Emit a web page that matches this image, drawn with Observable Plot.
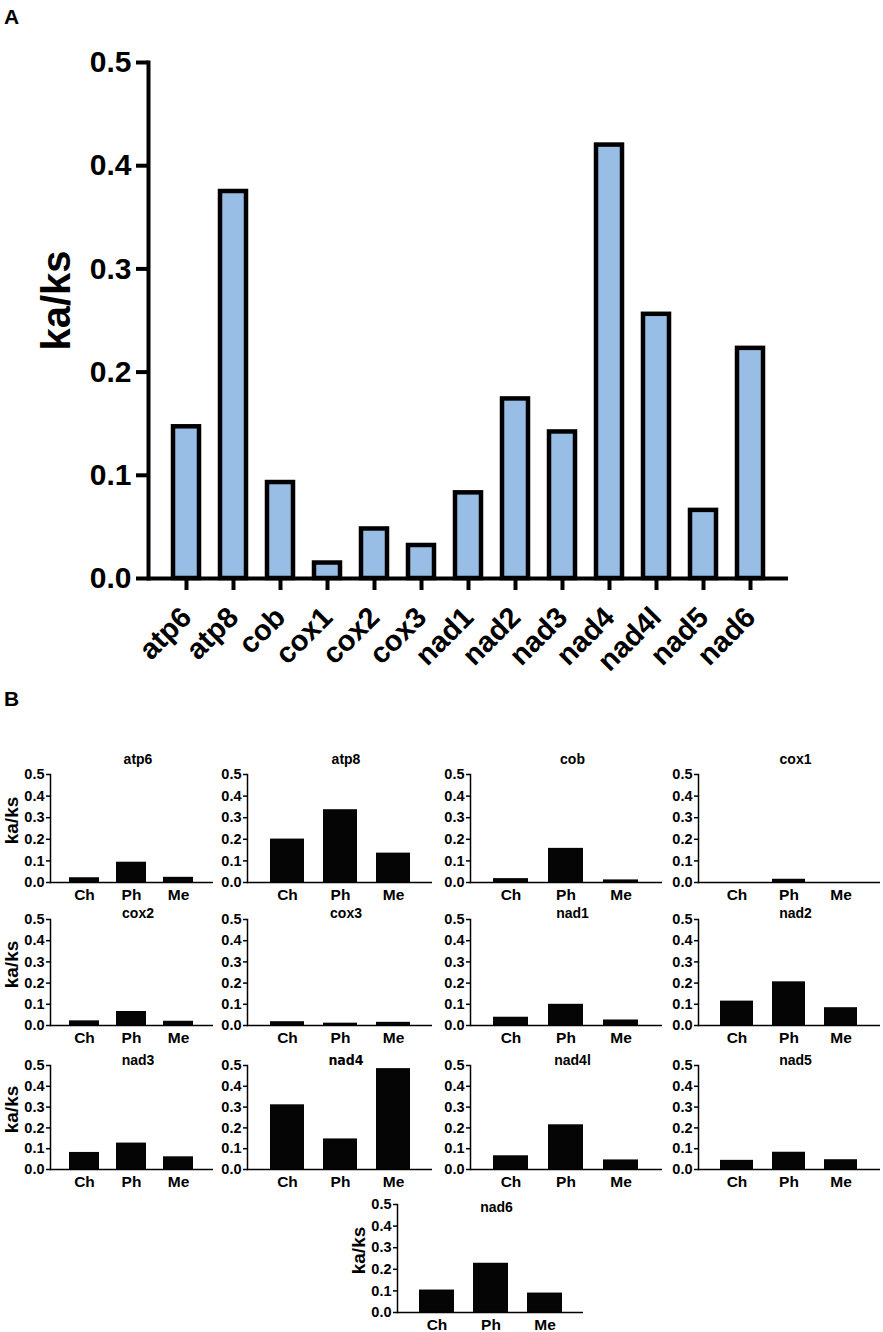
<!DOCTYPE html>
<html><head><meta charset="utf-8">
<script src="https://cdn.jsdelivr.net/npm/d3@7"></script>
<script src="https://cdn.jsdelivr.net/npm/@observablehq/plot@0.6"></script>
<style>
body{margin:0;background:#fff;}
#root{position:relative;width:883px;height:1332px;overflow:hidden;font-family:"Liberation Sans",Arial,sans-serif;}
.pl{position:absolute;font-weight:bold;font-size:21px;line-height:1;}
.pos{position:absolute;}
</style></head><body><div id="root"></div>
<script>
// ---- data ----
const genes = ["atp6","atp8","cob","cox1","cox2","cox3","nad1","nad2","nad3","nad4","nad4l","nad5","nad6"];
const kaks = [0.147,0.375,0.093,0.015,0.048,0.032,0.083,0.174,0.142,0.420,0.256,0.066,0.223];
const groups = ["Ch","Ph","Me"];
const chValues = [0.022,0.201,0.018,0.000,0.022,0.018,0.039,0.115,0.082,0.311,0.066,0.044,0.104];
const phValues = [0.094,0.337,0.158,0.015,0.066,0.011,0.100,0.206,0.127,0.147,0.215,0.083,0.228];
const meValues = [0.024,0.136,0.012,0.000,0.020,0.015,0.026,0.084,0.061,0.485,0.046,0.047,0.090];
const yTicks = [0,0.1,0.2,0.3,0.4,0.5];
const yLabel = "ka/ks";
const narrowTitles = ["nad4"];

// ---- layout ----
const root = document.getElementById("root");
function place(el, left, top){ el.classList.add("pos"); el.style.left=left+"px"; el.style.top=top+"px"; root.appendChild(el); }
function label(t, left, top){ const d=document.createElement("div"); d.className="pl"; d.textContent=t; d.style.left=left+"px"; d.style.top=top+"px"; root.appendChild(d); }
const fmt = d3.format(".1f");

// Panel A
const tableA = genes.map((g,i)=>({gene:g, value:kaks[i]}));
const plotA = Plot.plot({
  width: 883, height: 690,
  marginTop: 62, marginBottom: 112, marginLeft: 148, marginRight: 95,
  style: {fontFamily:"Liberation Sans", fontWeight:"bold", background:"transparent", color:"#000"},
  x: {domain: genes, range:[158,777], paddingInner:0.45, paddingOuter:0.225},
  y: {domain:[0,0.5]},
  marks: [
    Plot.barY(tableA, {x:"gene", y:"value", fill:"#98bee6", stroke:"#000", strokeWidth:4.5}),
    Plot.ruleY([0], {stroke:"#000", strokeWidth:4}),
    Plot.frame({anchor:"left", stroke:"#000", strokeWidth:4}),
    Plot.axisY({ticks:yTicks, tickFormat:fmt, tickSize:12, tickPadding:5, strokeWidth:4, label:null, fontSize:30}),
    Plot.axisX({tickRotate:-45, tickSize:12, tickPadding:22, strokeWidth:4, label:null, fontSize:29}),
    Plot.text([yLabel], {frameAnchor:"left", text:d=>d, rotate:-90, textAnchor:"middle", dx:-91, dy:-20, fontSize:40, fontWeight:"bold"})
  ]
});
place(plotA, 0, 0);
label("A", 4, 6);
label("B", 4, 688);

// Panel B
const colAxis = [50,247,470,698];
const colW = [163,185,192,182];
const rowTop = [774,919,1065,1204];
const rowH = [108,106,104,108];
const rowTitleDy = [-15,-6,-5,3];
const mL = 50, mT = 30, mB = 26;
genes.forEach((g,i)=>{
  let r = Math.floor(i/4), c = i%4, ax, w;
  if (i === 12) { ax = 397; w = 186; } else { ax = colAxis[c]; w = colW[c]; }
  const h = rowH[r];
  const rows = groups.map((gr,k)=>({group:gr, value:[chValues,phValues,meValues][k][i]}));
  const showLab = (c === 0);
  const narrow = narrowTitles.includes(g);
  const p = Plot.plot({
    width: mL + w + 2, height: mT + h + mB,
    marginLeft: mL, marginRight: 2, marginTop: mT, marginBottom: mB,
    style: {fontFamily:"Liberation Sans", fontWeight:"bold", background:"transparent", color:"#000"},
    x: {domain: groups, paddingInner:0.36, paddingOuter:0.4},
    y: {domain:[0,0.5]},
    marks: [
      Plot.barY(rows, {x:"group", y:"value", fill:"#050505"}),
      Plot.ruleY([0], {stroke:"#000", strokeWidth:1.5}),
      Plot.frame({anchor:"left", stroke:"#000", strokeWidth:1.5}),
      Plot.axisY({ticks:yTicks, tickFormat:fmt, tickSize:4, tickPadding:2, strokeWidth:1.5, label:null, fontSize:14.5}),
      Plot.axisX({tickSize:0, tickPadding:6, label:null, fontSize:15.5}),
      Plot.text([g], {frameAnchor:"top", text:d=>d, dx:6, dy:rowTitleDy[r], fontSize:14, textAnchor:"middle", lineAnchor:"middle",
        fontWeight:"bold", fontFamily: narrow ? "Liberation Sans Narrow, DejaVu Sans Condensed, sans-serif" : "Liberation Sans"}),
      showLab ? Plot.text([yLabel], {frameAnchor:"left", text:d=>d, rotate:-90, textAnchor:"middle", dx:-39, dy:-8, fontSize:19, fontWeight:"bold"}) : null
    ]
  });
  place(p, ax - mL, rowTop[r] - mT);
});
</script></body></html>
